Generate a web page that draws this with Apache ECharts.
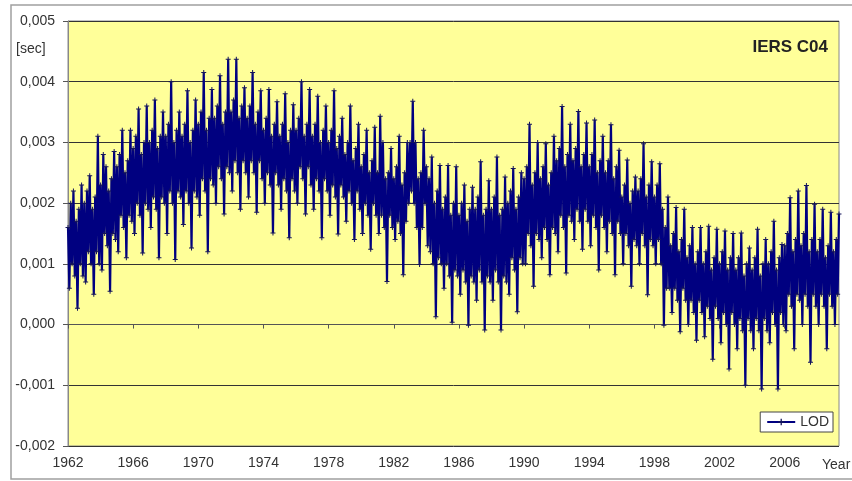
<!DOCTYPE html>
<html>
<head>
<meta charset="utf-8">
<script src="https://cdn.jsdelivr.net/npm/echarts@6/dist/echarts.min.js"></script>
<style>
  html, body { margin: 0; padding: 0; background: #fff; }
  #chart { width: 852px; height: 481px; }
</style>
</head>
<body>
<div id="chart"></div>
<script>
const startYear = 1962;

const lod1960s = [
  1.6, 0.6, 2.0, 1.0, 2.2, 0.8, 1.7, 0.27, 1.9, 1.0, 2.3, 0.8,    // 1962
  2.0, 0.7, 2.2, 1.2, 2.45, 1.0, 1.9, 0.5, 2.1, 1.2, 3.1, 1.0,    // 1963
  2.3, 0.9, 2.8, 1.5, 2.6, 1.3, 2.2, 0.55, 2.4, 1.5, 2.85, 1.4,   // 1964
  2.6, 1.2, 2.8, 1.8, 3.2, 1.6, 2.5, 1.1, 2.7, 1.8, 3.2, 1.7,     // 1965
  2.9, 1.5, 3.1, 2.0, 3.55, 1.8, 2.8, 1.18, 3.0, 2.0, 3.6, 1.9,   // 1966
  3.0, 1.6, 3.2, 2.1, 3.7, 1.9, 2.9, 1.1, 3.1, 2.1, 3.5, 2.0,     // 1967
  3.1, 1.5, 3.3, 2.2, 4.0, 2.0, 3.0, 1.07, 3.2, 2.2, 3.5, 2.1,    // 1968
  3.1, 1.65, 3.3, 2.2, 3.85, 2.0, 3.0, 1.26, 3.2, 2.2, 3.7, 2.1   // 1969
];

const lod1970s = [
  3.3, 1.8, 3.5, 2.4, 4.15, 2.2, 3.2, 1.2, 3.4, 2.4, 3.87, 2.3,   // 1970
  3.4, 2.0, 3.6, 2.6, 4.1, 2.4, 3.3, 1.82, 3.5, 2.6, 4.37, 2.5,   // 1971
  3.5, 2.2, 3.7, 2.7, 4.37, 2.5, 3.4, 1.9, 3.6, 2.7, 3.9, 2.5,    // 1972
  3.4, 2.1, 3.6, 2.7, 4.15, 2.5, 3.3, 1.85, 3.5, 2.7, 3.85, 2.4,  // 1973
  3.2, 2.0, 3.4, 2.5, 3.87, 2.3, 3.1, 1.51, 3.3, 2.5, 3.67, 2.3,  // 1974
  3.1, 1.9, 3.3, 2.4, 3.8, 2.2, 3.0, 1.43, 3.2, 2.4, 3.62, 2.2,   // 1975
  3.2, 2.0, 3.4, 2.6, 4.0, 2.4, 3.1, 1.82, 3.3, 2.6, 3.87, 2.3,   // 1976
  3.1, 1.9, 3.3, 2.4, 3.76, 2.2, 3.0, 1.43, 3.2, 2.4, 3.6, 2.2,   // 1977
  3.0, 1.8, 3.2, 2.3, 3.85, 2.1, 2.9, 1.49, 3.1, 2.3, 3.4, 2.1,   // 1978
  2.8, 1.7, 3.0, 2.2, 3.6, 2.0, 2.7, 1.4, 2.9, 2.2, 3.3, 1.9      // 1979
];

const lod1980s = [
  2.6, 1.5, 2.8, 2.0, 3.2, 1.8, 2.5, 1.24, 2.7, 2.0, 3.25, 1.8,   // 1980
  2.5, 1.5, 3.43, 1.8, 3.0, 1.6, 2.4, 0.71, 2.5, 1.8, 2.9, 1.6,   // 1981
  2.4, 1.4, 2.6, 1.7, 3.1, 1.5, 2.3, 0.82, 2.5, 1.7, 3.0, 2.0,    // 1982
  3.0, 2.2, 3.68, 2.0, 3.0, 1.6, 2.4, 0.99, 2.5, 1.6, 3.2, 2.0,   // 1983
  2.6, 1.3, 2.4, 1.2, 2.76, 1.0, 2.0, 0.13, 2.2, 1.1, 2.62, 1.0,  // 1984
  1.9, 0.6, 2.1, 1.0, 2.62, 0.8, 1.8, 0.04, 2.0, 0.9, 2.6, 0.8,   // 1985
  1.8, 0.5, 2.0, 0.9, 2.3, 0.7, 1.7, -0.01, 1.9, 0.8, 2.26, 0.7,  // 1986
  1.9, 0.4, 2.1, 0.9, 2.68, 0.7, 1.8, -0.09, 1.9, 0.8, 2.37, 0.7, // 1987
  1.9, 0.4, 2.1, 0.9, 2.76, 0.7, 1.8, -0.09, 1.9, 0.8, 2.43, 0.7, // 1988
  2.0, 0.5, 2.2, 1.1, 2.57, 0.9, 1.9, 0.21, 2.1, 1.1, 2.5, 1.0    // 1989
];

const lod1990s = [
  2.4, 1.0, 2.6, 1.5, 3.3, 1.3, 2.3, 0.63, 2.5, 1.5, 3.0, 1.4,    // 1990
  2.4, 1.1, 2.6, 1.6, 2.98, 1.4, 2.3, 0.82, 2.5, 1.6, 3.1, 1.5,   // 1991
  2.7, 1.2, 2.9, 1.8, 3.59, 1.6, 2.6, 0.85, 2.8, 1.8, 3.3, 1.7,   // 1992
  2.7, 1.4, 2.9, 1.9, 3.51, 1.7, 2.6, 1.24, 2.8, 1.9, 3.32, 1.7,  // 1993
  2.6, 1.3, 2.8, 1.8, 3.37, 1.6, 2.5, 0.9, 2.7, 1.8, 3.1, 1.6,    // 1994
  2.5, 1.2, 2.7, 1.7, 3.29, 1.5, 2.4, 0.82, 2.6, 1.7, 2.87, 1.5,  // 1995
  2.1, 1.0, 2.3, 1.5, 2.71, 1.3, 2.0, 0.63, 2.2, 1.4, 2.43, 1.3,  // 1996
  2.2, 1.0, 2.4, 1.5, 2.98, 1.3, 2.1, 0.49, 2.3, 1.4, 2.68, 1.3,  // 1997
  2.1, 1.0, 2.3, 1.4, 2.65, 1.0, 1.9, -0.01, 1.6, 0.6, 2.1, 0.6,  // 1998
  1.3, 0.2, 1.5, 0.6, 1.93, 0.4, 1.2, -0.12, 1.4, 0.6, 1.9, 0.4   // 1999
];

const lod2000s = [
  1.1, 0.0, 1.3, 0.4, 1.6, 0.2, 1.0, -0.26, 1.2, 0.4, 1.6, 0.2,     // 2000
  1.0, -0.2, 1.2, 0.3, 1.62, 0.1, 0.9, -0.57, 1.1, 0.3, 1.57, 0.1,  // 2001
  1.0, -0.3, 1.2, 0.2, 1.54, 0.0, 0.9, -0.73, 1.1, 0.2, 1.5, 0.0,   // 2002
  0.9, -0.4, 1.1, 0.1, 1.51, -0.1, 0.8, -1.0, 1.0, 0.1, 1.26, -0.1, // 2003
  0.9, -0.4, 1.1, 0.1, 1.57, -0.1, 0.8, -1.06, 1.0, 0.1, 1.4, -0.1, // 2004
  1.0, -0.3, 1.2, 0.2, 1.7, 0.0, 0.9, -1.06, 1.1, 0.2, 1.32, 0.0,   // 2005
  1.3, -0.1, 1.5, 0.5, 2.09, 0.3, 1.2, -0.4, 1.4, 0.5, 2.2, 0.4,    // 2006
  1.3, 0.0, 1.5, 0.5, 2.29, 0.3, 1.2, -0.62, 1.4, 0.5, 1.98, 0.3,   // 2007
  1.2, 0.0, 1.4, 0.5, 1.9, 0.3, 1.1, -0.4, 1.3, 0.5, 1.85, 0.3,     // 2008
  1.2, 0.0, 1.4, 0.5, 1.82                                          // 2009
];

const lod = [].concat(lod1960s, lod1970s, lod1980s, lod1990s, lod2000s);
const months = lod.map((_, i) => (startYear + Math.floor(i / 12)) + '-' + String(i % 12 + 1).padStart(2, '0'));

const font = 'Liberation Sans, Arial, sans-serif';
const plusSymbol = 'path://M4,0H6V4H10V6H6V10H4V6H0V4H4Z';

const chart = echarts.init(document.getElementById('chart'));

chart.setOption({
  animation: false,
  backgroundColor: '#fff',
  grid: {
    left: 68, top: 21, right: 13, bottom: 35,
    show: true,
    backgroundColor: '#FFFF99',
    borderColor: '#888',
    borderWidth: 1
  },
  legend: {
    data: ['LOD'],
    right: 19,
    top: 412,
    backgroundColor: '#fff',
    borderColor: '#444',
    borderWidth: 1,
    padding: [3, 4, 3, 6],
    itemWidth: 28,
    itemHeight: 8,
    itemGap: 4,
    textStyle: { fontFamily: font, fontSize: 14, color: '#333' }
  },
  xAxis: {
    type: 'category',
    data: months,
    boundaryGap: false,
    axisLine: { lineStyle: { color: '#555' } },
    axisTick: {
      show: true,
      length: 4,
      interval: (i) => i % 48 === 0,
      lineStyle: { color: '#555' }
    },
    axisLabel: {
      interval: (i) => i % 48 === 0,
      formatter: (v) => v.slice(0, 4),
      margin: 10,
      fontFamily: font,
      fontSize: 14,
      color: '#333'
    },
    splitLine: { show: false }
  },
  yAxis: {
    type: 'value',
    min: -2,
    max: 5,
    interval: 1,
    axisLine: { show: true, lineStyle: { color: '#888' } },
    axisTick: { show: true, length: 5, lineStyle: { color: '#555' } },
    axisLabel: {
      formatter: (v) => (v / 1000).toFixed(3).replace('.', ','),
      margin: 13,
      fontFamily: font,
      fontSize: 14,
      color: '#333'
    },
    splitLine: { show: true, lineStyle: { color: '#333', width: 1 } }
  },
  series: [
    {
      name: 'LOD',
      type: 'line',
      data: lod,
      symbol: plusSymbol,
      symbolSize: 5,
      showSymbol: true,
      showAllSymbol: true,
      lineStyle: { color: '#000080', width: 2.2 },
      itemStyle: { color: '#14145a' }
    }
  ],
  graphic: [
    {
      type: 'rect',
      shape: { x: 11, y: 5, width: 860, height: 474 },
      style: { fill: 'none', stroke: '#a0a0a0', lineWidth: 1.5 },
      silent: true
    },
    {
      type: 'text',
      left: 16, top: 42,
      style: { text: '[sec]', font: '14px ' + font, fill: '#333' }
    },
    {
      type: 'text',
      right: 24, top: 39,
      style: { text: 'IERS C04', font: 'bold 17px ' + font, fill: '#222' }
    },
    {
      type: 'text',
      left: 822, top: 458,
      style: { text: 'Year', font: '14px ' + font, fill: '#333' }
    }
  ]
});
</script>
</body>
</html>
